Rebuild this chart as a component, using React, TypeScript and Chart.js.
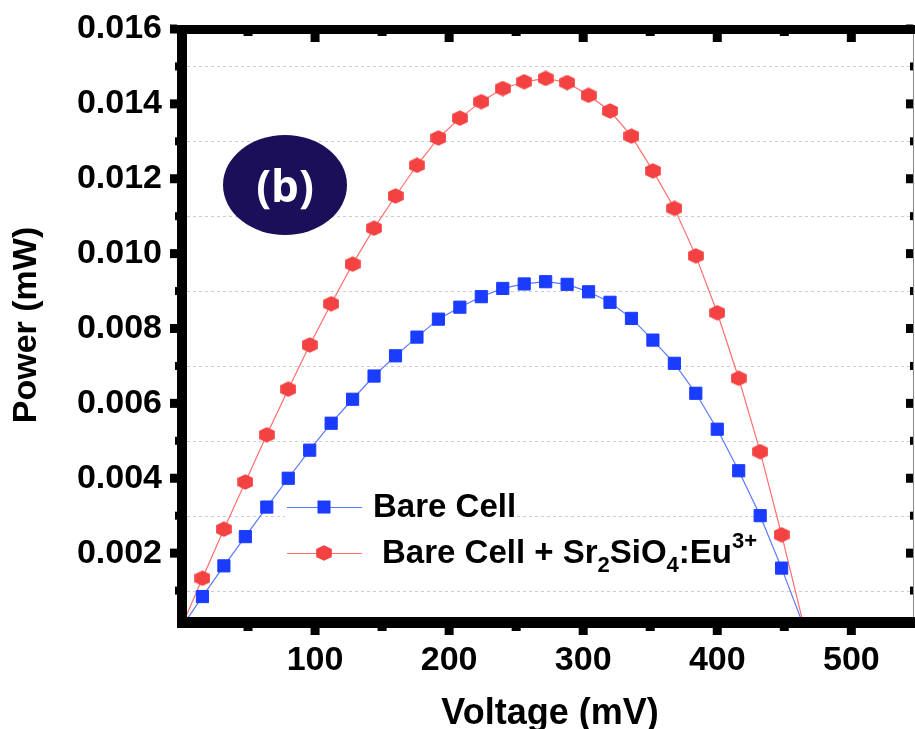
import React, { useEffect, useRef } from "react";
import { Chart, registerables } from "chart.js";

Chart.register(...registerables);

// ---- data ----
const voltage = [0, 16, 32, 48, 64, 80, 96, 112, 128, 144, 160, 176, 192, 208, 224, 240, 256, 272, 288, 304, 320, 336, 352, 368, 384, 400, 416, 432, 448, 465];
const bareCell = [0, 0.00084, 0.00166, 0.00244, 0.00323, 0.004, 0.00475, 0.00547, 0.00611, 0.00673, 0.00727, 0.00777, 0.00825, 0.00857, 0.00885, 0.00907, 0.00919, 0.00925, 0.00918, 0.00898, 0.0087, 0.00827, 0.00769, 0.00707, 0.00627, 0.00531, 0.0042, 0.003, 0.0016, 0];
const coatedCell = [0, 0.00133, 0.00264, 0.0039, 0.00516, 0.00638, 0.00756, 0.00866, 0.00972, 0.01068, 0.01154, 0.01236, 0.01309, 0.01362, 0.01406, 0.01441, 0.01459, 0.01468, 0.01457, 0.01423, 0.01381, 0.01314, 0.01221, 0.01121, 0.00994, 0.00842, 0.00667, 0.00471, 0.00249, 0];

const xTicks = [100, 200, 300, 400, 500];
const xMinorTicks = [50, 150, 250, 350, 450];
const yTicks = [0.002, 0.004, 0.006, 0.008, 0.01, 0.012, 0.014, 0.016];
const yMinorTicks = [0.001, 0.003, 0.005, 0.007, 0.009, 0.011, 0.013, 0.015];

const FONT = "'Liberation Sans', Arial, sans-serif";
const BLUE = "#1a3cff";
const BLUE_LINE = "#5a78ff";
const RED = "#f44242";
const RED_LINE = "#ff6f6f";

function makeHexagon(color: string) {
  const w = 16, h = 16;
  const c = document.createElement("canvas");
  c.width = w;
  c.height = h;
  const g = c.getContext("2d")!;
  g.beginPath();
  for (let i = 0; i < 6; i++) {
    const a = Math.PI / 2 + (i * Math.PI) / 3;
    g.lineTo(w / 2 + (w / 2) * Math.cos(a) / Math.cos(Math.PI / 6) * 0.98, h / 2 + (h / 2) * Math.sin(a) * 0.98);
  }
  g.closePath();
  g.fillStyle = color;
  g.fill();
  return c;
}

const framePlugin = {
  id: "frame",
  beforeDatasetsDraw(chart: any) {
    const { ctx, chartArea: a, scales } = chart;
    const y = scales.y;
    ctx.save();
    ctx.strokeStyle = "#cccccc";
    ctx.lineWidth = 1;
    ctx.setLineDash([3, 3]);
    yMinorTicks.forEach((v) => {
      const py = Math.round(y.getPixelForValue(v)) + 0.5;
      ctx.beginPath();
      ctx.moveTo(a.left, py);
      ctx.lineTo(a.right, py);
      ctx.stroke();
    });
    ctx.restore();
  },
  afterDatasetsDraw(chart: any) {
    const { ctx, chartArea: a, scales } = chart;
    const x = scales.x;
    const y = scales.y;
    ctx.save();
    // right thin border
    ctx.fillStyle = "#8a8a8a";
    ctx.fillRect(a.right, a.top, 1, a.bottom - a.top);
    ctx.fillStyle = "#000";
    // thick axes
    ctx.fillRect(a.left - 4, a.top - 4, 10, a.bottom - a.top + 4);
    ctx.fillRect(a.left - 4, a.bottom - 11, a.right - a.left + 6, 11);
    ctx.fillRect(a.left - 4, a.top - 4, a.right - a.left + 6, 9);
    // ticks
    xTicks.forEach((v) => {
      const px = x.getPixelForValue(v);
      ctx.fillRect(px - 4.5, a.bottom, 9, 7);
      ctx.fillRect(px - 4.5, a.top + 5, 9, 8);
    });
    xMinorTicks.forEach((v) => {
      const px = x.getPixelForValue(v);
      ctx.fillRect(px - 4.5, a.bottom, 9, 3);
      ctx.fillRect(px - 4.5, a.top + 5, 9, 2);
    });
    yTicks.forEach((v) => {
      const py = y.getPixelForValue(v);
      ctx.fillRect(a.left - 11, py - 4.5, 7, 9);
      ctx.fillRect(a.right - 7, py - 4.5, 7, 9);
    });
    yMinorTicks.forEach((v) => {
      const py = y.getPixelForValue(v);
      ctx.fillRect(a.left - 6, py - 4, 2, 8);
      ctx.fillRect(a.right - 3, py - 4, 3, 8);
    });

    // axis titles
    ctx.fillStyle = "#000";
    ctx.font = `bold 36px ${FONT}`;
    ctx.textAlign = "center";
    ctx.textBaseline = "alphabetic";
    ctx.fillText("Voltage (mV)", (a.left + a.right) / 2 + 3, 724);
    ctx.save();
    ctx.translate(27, 325);
    ctx.rotate(-Math.PI / 2);
    ctx.font = `bold 34px ${FONT}`;
    ctx.textBaseline = "middle";
    ctx.fillText("Power (mW)", 0, 0);
    ctx.restore();

    // legend
    const lx0 = 287, lx1 = 362, mx = 324;
    const r1 = 507, r2 = 553;
    ctx.fillStyle = "#fff";
    ctx.fillRect(285, 490, 232, 36);
    ctx.lineWidth = 1.2;
    ctx.strokeStyle = BLUE_LINE;
    ctx.beginPath();
    ctx.moveTo(lx0, r1 + 0.5);
    ctx.lineTo(lx1, r1 + 0.5);
    ctx.stroke();
    ctx.fillStyle = BLUE;
    ctx.fillRect(mx - 6.5, r1 - 6.5, 13, 13);
    ctx.strokeStyle = RED_LINE;
    ctx.beginPath();
    ctx.moveTo(lx0, r2 + 0.5);
    ctx.lineTo(lx1, r2 + 0.5);
    ctx.stroke();
    const hex = makeHexagon(RED);
    ctx.drawImage(hex, mx - hex.width / 2, r2 - hex.height / 2);

    ctx.fillStyle = "#000";
    ctx.textAlign = "left";
    ctx.textBaseline = "alphabetic";
    const big = `bold 33px ${FONT}`;
    const small = `bold 22px ${FONT}`;
    ctx.font = big;
    ctx.fillText("Bare Cell", 373, 517);
    const parts: [string, string, number][] = [
      ["Bare Cell + Sr", big, 0],
      ["2", small, 9],
      ["SiO", big, 0],
      ["4", small, 9],
      [":Eu", big, 0],
      ["3+", small, -15],
    ];
    let cx = 382;
    parts.forEach(([t, f, dy]) => {
      ctx.font = f;
      ctx.fillText(t, cx, 563 + dy);
      cx += ctx.measureText(t).width;
    });

    // (b) badge
    ctx.fillStyle = "#1c0f5a";
    ctx.beginPath();
    ctx.ellipse(285, 185, 62, 50, 0, 0, Math.PI * 2);
    ctx.fill();
    ctx.fillStyle = "#fff";
    ctx.font = `bold 44px 'Open Sans', ${FONT}`;
    ctx.textAlign = "center";
    ctx.textBaseline = "middle";
    ctx.fillText("(b)", 285, 189);
    ctx.restore();
  },
};

export default function App() {
  const ref = useRef<HTMLCanvasElement | null>(null);
  useEffect(() => {
    document.body.style.margin = "0";
    const canvas = ref.current!;
    const endpoint = (c: any) => (c.dataIndex === 0 || c.dataIndex === voltage.length - 1 ? 0 : 1);
    const chart = new Chart(canvas, {
      type: "line",
      data: {
        datasets: [
          {
            label: "Bare Cell",
            data: voltage.map((v, i) => ({ x: v, y: bareCell[i] })),
            borderColor: BLUE_LINE,
            borderWidth: 1.2,
            pointStyle: "rect",
            pointRadius: (c: any) => endpoint(c) * 8.6,
            pointBackgroundColor: BLUE,
            pointBorderColor: BLUE,
            pointBorderWidth: 1,
            tension: 0,
          },
          {
            label: "Bare Cell + Sr2SiO4:Eu3+",
            data: voltage.map((v, i) => ({ x: v, y: coatedCell[i] })),
            borderColor: RED_LINE,
            borderWidth: 1.2,
            pointStyle: makeHexagon(RED),
            pointRadius: (c: any) => endpoint(c) * 7.5,
            tension: 0,
          },
        ],
      },
      options: {
        animation: false,
        responsive: false,
        maintainAspectRatio: false,
        layout: { padding: { top: 29, right: 2, left: 0, bottom: 0 } },
        plugins: { legend: { display: false }, tooltip: { enabled: false } },
        scales: {
          x: {
            type: "linear",
            min: 0,
            max: 546,
            afterFit: (s: any) => {
              s.height = 101;
            },
            afterBuildTicks: (s: any) => {
              s.ticks = xTicks.map((v) => ({ value: v }));
            },
            grid: { display: true, drawOnChartArea: false, drawTicks: true, tickLength: 6, tickColor: "rgba(0,0,0,0)" },
            border: { display: false },
            ticks: {
              color: "#000",
              padding: 6,
              maxRotation: 0,
              autoSkip: false,
              font: { family: FONT, size: 34, weight: "bold" },
            },
          },
          y: {
            type: "linear",
            min: 0,
            max: 0.016,
            afterFit: (s: any) => {
              s.width = 181;
            },
            afterBuildTicks: (s: any) => {
              s.ticks = yTicks.map((v) => ({ value: v }));
            },
            grid: { display: true, drawOnChartArea: false, drawTicks: true, tickLength: 19, tickColor: "rgba(0,0,0,0)" },
            border: { display: false },
            ticks: {
              color: "#000",
              padding: 0,
              autoSkip: false,
              font: { family: FONT, size: 34, weight: "bold" },
              callback: (v: any) => Number(v).toFixed(3),
            },
          },
        },
      },
      plugins: [framePlugin],
    } as any);
    return () => chart.destroy();
  }, []);
  return <canvas ref={ref} width={915} height={729} style={{ display: "block" }} />;
}
